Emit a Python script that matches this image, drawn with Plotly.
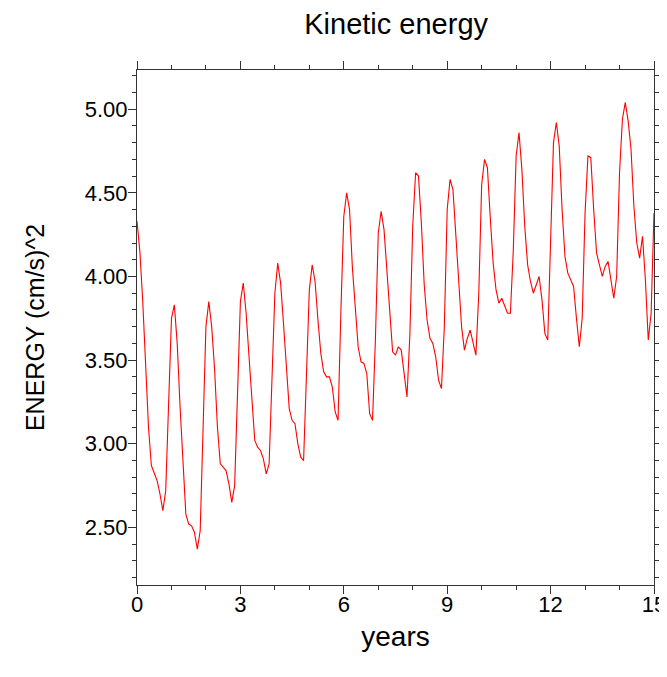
import plotly.graph_objects as go

# Monthly kinetic energy values, (cm/s)^2, from year 0 to year 15
energy = [
    4.33, 4.15, 3.85, 3.48, 3.10, 2.87, 2.83, 2.78, 2.70, 2.60, 2.72, 3.25,
    3.75, 3.83, 3.60, 3.22, 2.90, 2.58, 2.52, 2.51, 2.47, 2.37, 2.48, 3.10,
    3.70, 3.85, 3.70, 3.45, 3.10, 2.88, 2.86, 2.84, 2.76, 2.65, 2.75, 3.35,
    3.85, 3.96, 3.78, 3.52, 3.25, 3.02, 2.98, 2.96, 2.91, 2.82, 2.88, 3.35,
    3.90, 4.08, 3.96, 3.72, 3.46, 3.21, 3.14, 3.12, 3.00, 2.92, 2.90, 3.40,
    3.92, 4.07, 3.97, 3.74, 3.54, 3.43, 3.40, 3.40, 3.34, 3.19, 3.14, 3.80,
    4.36, 4.50, 4.40, 4.05, 3.82, 3.58, 3.49, 3.48, 3.42, 3.18, 3.14, 3.62,
    4.26, 4.39, 4.28, 4.02, 3.78, 3.55, 3.53, 3.58, 3.56, 3.40, 3.28, 3.65,
    4.30, 4.62, 4.60, 4.32, 3.95, 3.74, 3.63, 3.60, 3.52, 3.38, 3.33, 3.70,
    4.40, 4.58, 4.52, 4.25, 3.96, 3.70, 3.56, 3.63, 3.68, 3.60, 3.53, 3.90,
    4.55, 4.70, 4.65, 4.35, 4.08, 3.92, 3.84, 3.87, 3.82, 3.78, 3.78, 4.15,
    4.72, 4.86, 4.64, 4.30, 4.07, 3.97, 3.90, 3.95, 4.00, 3.86, 3.66, 3.62,
    4.20, 4.80, 4.92, 4.78, 4.40, 4.12, 4.02, 3.98, 3.94, 3.75, 3.58, 3.75,
    4.38, 4.72, 4.71, 4.40, 4.14, 4.07, 4.00, 4.06, 4.09, 3.98, 3.87, 4.00,
    4.62, 4.94, 5.04, 4.93, 4.76, 4.42, 4.20, 4.11, 4.24, 3.98, 3.62, 3.78,
    4.38,
]
years = [i / 12 for i in range(len(energy))]

x_ticks = [0, 3, 6, 9, 12, 15]
y_ticks = [2.5, 3.0, 3.5, 4.0, 4.5, 5.0]

FONT = "Liberation Sans, Arial, Helvetica, sans-serif"

fig = go.Figure()
fig.add_trace(go.Scatter(
    x=years, y=energy, mode="lines",
    line=dict(color="#ff0000", width=1.1),
    showlegend=False, hoverinfo="x+y",
))

axis_common = dict(
    showline=True, linecolor="#333333", linewidth=1, mirror="ticks",
    ticks="outside", tickcolor="#333333", tickwidth=1, ticklen=8,
    showgrid=False, zeroline=False, automargin=False,
    tickfont=dict(family=FONT, size=22, color="black"),
)

fig.update_layout(
    width=659, height=669,
    paper_bgcolor="white", plot_bgcolor="white",
    margin=dict(l=129, r=13, t=62, b=92),
    title=dict(text="Kinetic energy", x=0.589, xanchor="center",
               y=0.977, yanchor="middle",
               font=dict(family=FONT, size=29, color="black")),
    xaxis=dict(
        range=[0, 15], tickvals=x_ticks, ticktext=[str(v) for v in x_ticks],
        minor=dict(dtick=1, tick0=0, ticks="outside", ticklen=4,
                   tickcolor="#333333", tickwidth=1),
        ticklabelstandoff=-8,
        title=dict(text="years", standoff=9,
                   font=dict(family=FONT, size=28, color="black")),
        **axis_common,
    ),
    yaxis=dict(
        range=[2.156, 5.234], tickvals=y_ticks,
        ticktext=[f"{v:.2f}" for v in y_ticks],
        minor=dict(dtick=0.1, tick0=2.5, ticks="outside", ticklen=4,
                   tickcolor="#333333", tickwidth=1),
        ticklabelstandoff=-4,
        title=dict(text="ENERGY (cm/s)^2", standoff=33,
                   font=dict(family=FONT, size=25, color="black")),
        **axis_common,
    ),
)

fig.write_html("out.html")
